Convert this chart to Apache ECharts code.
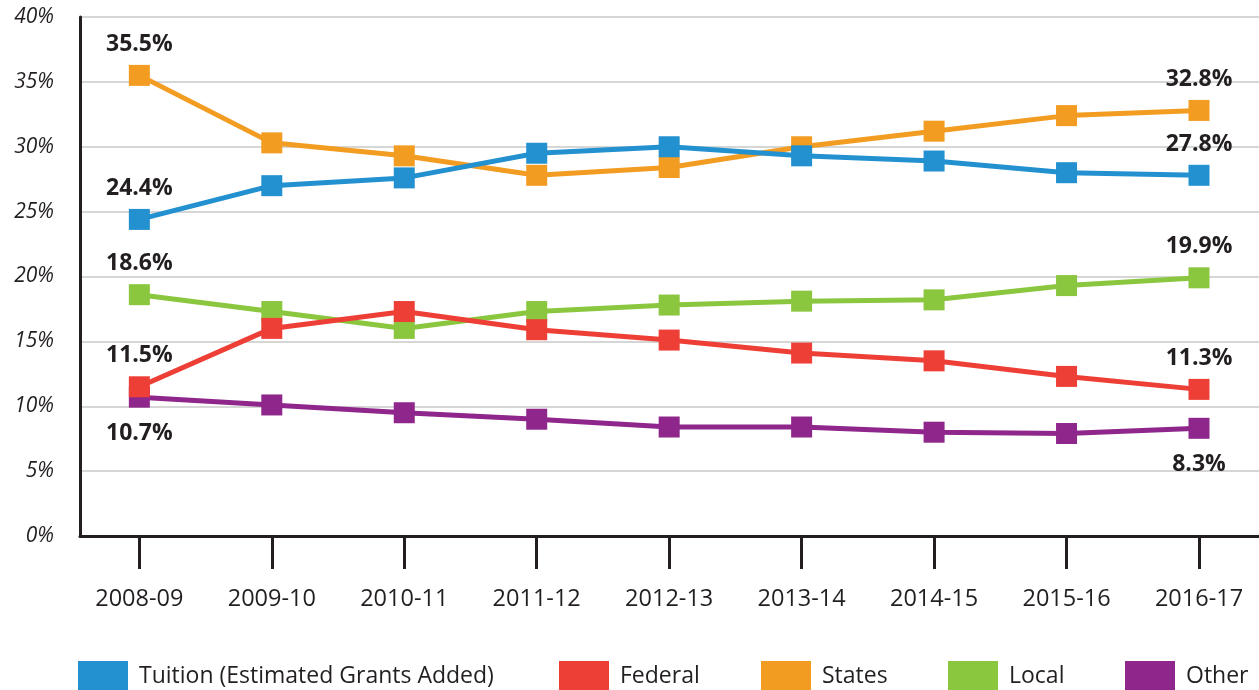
<!DOCTYPE html>
<html>
<head>
<meta charset="utf-8">
<script src="https://cdn.jsdelivr.net/npm/echarts@6/dist/echarts.min.js"></script>
<style>
html,body{margin:0;padding:0;background:#fff;}
#chart{width:1259px;height:690px;}
</style>
</head>
<body>
<div id="chart"></div>
<script>
const categories = ['2008-09','2009-10','2010-11','2011-12','2012-13','2013-14','2014-15','2015-16','2016-17'];
const tuition = [24.4, 27.0, 27.6, 29.5, 30.0, 29.3, 28.9, 28.0, 27.8];
const federal = [11.5, 16.0, 17.3, 15.9, 15.1, 14.1, 13.5, 12.3, 11.3];
const states  = [35.5, 30.3, 29.3, 27.8, 28.4, 30.0, 31.2, 32.4, 32.8];
const local   = [18.6, 17.3, 16.0, 17.3, 17.8, 18.1, 18.2, 19.3, 19.9];
const other   = [10.7, 10.1, 9.5, 9.0, 8.4, 8.4, 8.0, 7.9, 8.3];
const seriesNames = ['Tuition (Estimated Grants Added)','Federal','States','Local','Other'];

const colors = {
  'Tuition (Estimated Grants Added)': '#2391d0',
  'Federal': '#ee3f37',
  'States': '#f29c22',
  'Local': '#8bc63f',
  'Other': '#8e268c'
};
const dark = '#231f20';
const font = "'Open Sans', sans-serif";

function buildData(vals, firstPos, lastPos) {
  return vals.map((v, i) => {
    const item = { value: [i, v] };
    if (i === 0 || i === vals.length - 1) {
      const pos = i === 0 ? firstPos : lastPos;
      item.label = {
        show: true,
        position: pos,
        distance: pos === 'bottom' ? 14 : 9,
        formatter: v.toFixed(1) + '%',
        fontFamily: font,
        fontWeight: 'bold',
        fontSize: 23,
        color: dark
      };
    }
    return item;
  });
}

function mkSeries(name, vals, firstPos, lastPos, z) {
  return {
    name: name,
    type: 'line',
    z: z,
    data: buildData(vals, firstPos, lastPos),
    symbol: 'rect',
    symbolSize: 21,
    showAllSymbol: true,
    lineStyle: { width: 5, color: colors[name] },
    itemStyle: { color: colors[name] },
    label: { show: false },
    emphasis: { disabled: true },
    animation: false
  };
}

const idx = categories.map((c, i) => i);
const legendLefts = [78, 559, 761, 948, 1125];

const option = {
  animation: false,
  backgroundColor: '#ffffff',
  grid: { left: 80, right: 0, top: 17, bottom: 154, containLabel: false },
  xAxis: {
    type: 'value',
    min: -0.448,
    max: 8.453,
    axisLine: { show: true, onZero: false, lineStyle: { color: dark, width: 3 } },
    axisTick: { show: true, customValues: idx, length: 33, lineStyle: { color: dark, width: 3 } },
    axisLabel: {
      show: true,
      customValues: idx,
      formatter: v => categories[Math.round(v)],
      margin: 51,
      fontFamily: font,
      fontSize: 23.5,
      color: dark
    },
    splitLine: { show: false }
  },
  yAxis: {
    type: 'value',
    min: 0,
    max: 40,
    interval: 5,
    axisLine: { show: true, onZero: false, lineStyle: { color: dark, width: 3 } },
    axisTick: { show: false },
    axisLabel: {
      formatter: '{value}%',
      fontFamily: font,
      fontStyle: 'italic',
      fontSize: 21,
      color: dark,
      margin: 26
    },
    splitLine: { show: true, lineStyle: { color: '#c9c9c9', width: 1.5 } }
  },
  legend: seriesNames.map((n, i) => ({
    data: [{ name: n, icon: 'rect' }],
    left: legendLefts[i],
    top: 661,
    padding: 0,
    itemWidth: 50,
    itemHeight: 30,
    selectedMode: false,
    textStyle: { fontFamily: font, fontSize: 23, color: dark, padding: [0, 0, 0, 6] }
  })),
  series: [
    mkSeries('Tuition (Estimated Grants Added)', tuition, 'top', 'top', 7),
    mkSeries('Federal', federal, 'top', 'top', 6),
    mkSeries('States', states, 'top', 'top', 5),
    mkSeries('Local', local, 'top', 'top', 4),
    mkSeries('Other', other, 'bottom', 'bottom', 3)
  ]
};

const chart = echarts.init(document.getElementById('chart'), null, { renderer: 'canvas' });
chart.setOption(option);
</script>
</body>
</html>
